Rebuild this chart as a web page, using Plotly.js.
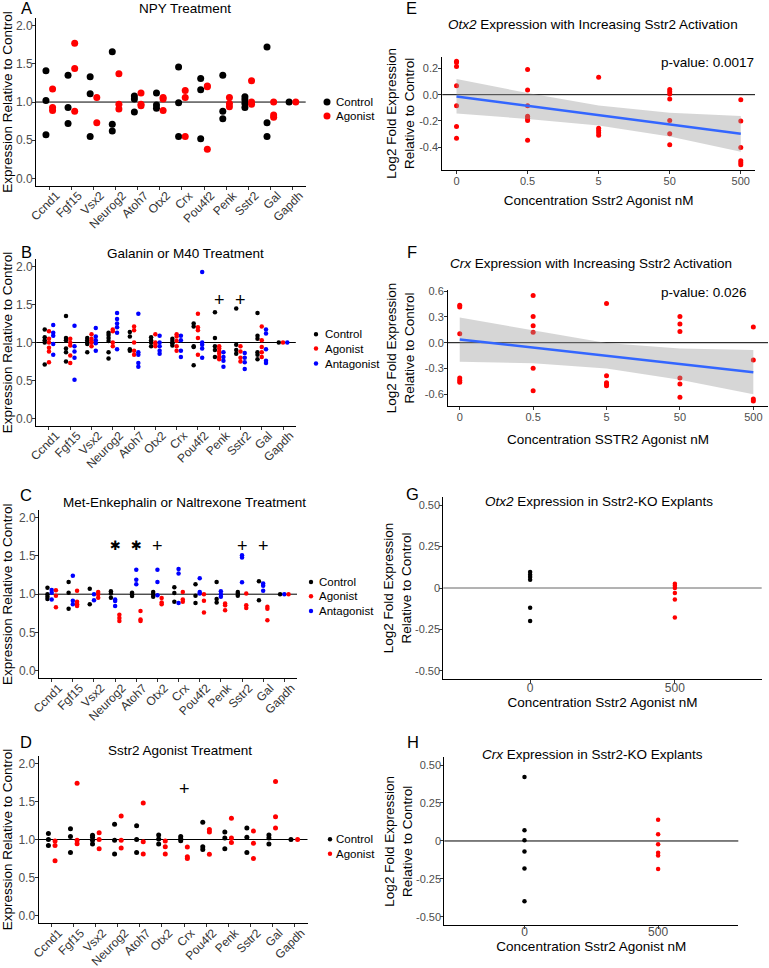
<!DOCTYPE html>
<html><head><meta charset="utf-8">
<script src="https://cdn.plot.ly/plotly-3.0.1.min.js"></script>
<style>html,body{margin:0;padding:0;background:#fff}</style>
</head><body><div id="chart" style="width:769px;height:968px"></div>
<script>
// ---------------- DATA ----------------
const genes = ['Ccnd1','Fgf15','Vsx2','Neurog2','Atoh7','Otx2','Crx','Pou4f2','Penk','Sstr2','Gal','Gapdh'];

// A: NPY treatment
const npyControl = [[1.41,1.02,0.57],[1.35,0.93,0.72],[1.33,1.11,0.55],[1.66,0.71,0.62],[1.08,1.04,0.87],[1.12,0.96,0.92],[1.46,0.99,0.55],[1.31,1.16,0.52],[1.35,0.88,0.78],[1.07,1.03,0.98,0.93],[1.72,0.73,0.55],[1.0]];
const npyAgonist = [[1.17,0.93,0.89],[1.77,1.44,0.88],[1.06,0.73],[1.37,0.97,0.91],[1.12,0.97,0.95],[1.06,1.04,0.89],[1.15,1.06,0.55],[1.21,1.20,0.38],[1.06,0.98,0.94],[1.28,1.00,0.97],[1.0,0.83,0.80],[1.0]];

// B: Galanin or M40 treatment
const galControl = [[1.17,1.07,1.03,1.0,0.71],[1.35,1.06,1.03,0.92,0.87,0.75],[1.06,1.03,1.0,0.98,0.87],[1.13,1.10,1.06,1.02,0.87,0.79],[1.14,1.08,0.91,0.89],[1.07,1.03,1.0,0.95],[1.05,1.02,0.99,0.96],[1.25,1.21,0.95,0.94,0.70],[1.40,1.06,0.95,0.90,0.81],[1.45,0.97,0.90,0.85],[1.39,1.09,1.05,0.87,0.84,0.78],[1.0]];
const galAgonist = [[1.15,1.05,1.0,0.93,0.88,0.74],[1.05,1.0,0.96,0.83,0.73],[1.11,1.05,1.02,1.0,0.95],[1.17,1.15,1.0,0.95],[1.21,1.16,1.0,0.89,0.84],[1.11,1.0,0.98,0.95],[1.11,1.08,1.02,0.95,0.89],[1.38,1.2,1.16,1.06,0.84],[0.95,0.92,0.88,0.85,0.81,0.78],[0.95,0.88,0.80,0.75],[1.21,1.03,0.94,0.87,0.81],[1.0]];
const galAntagonist = [[1.23,1.13,1.09,0.98,0.84],[1.22,0.95,0.88,0.80,0.51],[1.19,1.08,1.03,0.99,0.89],[1.39,1.31,1.25,1.2,1.13,0.91],[1.38,0.87,0.84,0.73,0.68],[1.09,1.0,0.95,0.89,0.85],[1.09,1.03,0.89,0.81],[1.93,1.0,0.97,0.92,0.80],[0.87,0.81,0.76,0.68],[0.86,0.80,0.74,0.65],[1.17,1.12,0.91,0.76,0.73],[1.0]];

// C: Met-Enkephalin or Naltrexone treatment
const metControl = [[1.085,1.0,0.967,0.937],[1.16,1.02,0.81],[1.07,0.87],[1.04,1.01,0.955],[1.02,1.0,0.976],[1.03,1.0,0.967],[1.09,1.015,0.90],[1.13,0.98,0.885],[1.16,0.937,0.89],[1.03,1.006,0.98],[1.17,0.92],[1.0]];
const metAntagonist = [[1.054,1.02,0.93],[1.24,0.915,0.87],[1.0,0.92],[0.93,0.91,0.845],[1.32,1.19,1.13],[1.32,1.16,0.985],[1.33,1.27,0.885],[1.21,1.03,1.01],[1.04,1.0,0.967],[1.51,1.48,1.155],[1.14,1.11,1.046],[1.0]];
const metAgonist = [[1.05,0.98,0.83],[1.045,0.90,0.87,0.845],[1.03,1.0,0.955],[0.73,0.69,0.65],[0.78,0.67,0.65],[0.95,0.89,0.87],[1.03,0.93,0.90],[1.0,0.915,0.76],[0.88,0.855,0.79],[1.01,0.855,0.82],[0.837,0.81,0.66],[1.0]];

// D: Sstr2 agonist treatment
const sstControl = [[1.08,1.0,0.92],[1.14,1.04,0.83],[1.055,1.03,0.99,0.94],[1.20,0.99,0.81],[1.18,1.0,0.83],[1.06,1.005,0.94],[1.04,1.01,0.985],[1.225,0.905,0.87],[1.10,1.02,0.88],[1.15,1.03,0.83],[1.06,1.02,0.94],[1.0]];
const sstAgonist = [[0.98,0.92,0.72],[1.74,0.99,0.945],[1.09,1.0,0.88],[1.31,0.99,0.89],[1.48,0.97,0.81],[0.98,0.905,0.81],[0.90,0.775,0.75],[1.13,1.10,0.805],[1.28,1.02,0.96],[1.11,0.95,0.75],[1.76,1.30,1.15],[1.0]];

// significance marks (gene, label)
const galMarks = [['Penk','+'],['Sstr2','+']];
const metMarks = [['Neurog2','✱'],['Atoh7','✱'],['Otx2','+'],['Sstr2','+'],['Gal','+']];
const sstMarks = [['Crx','+']];
const galMarkY = 1.56, metMarkY = 1.63, sstMarkY = 1.66;

// E / F: dose response (log2 fold change)
const doses = ['0','0.5','5','50','500'];
const otx2Dose = [[0.256,0.245,0.215,0.068,-0.084,-0.243,-0.332],[0.192,0.035,-0.084,-0.165,-0.182,-0.197,-0.347],[0.134,-0.256,-0.273,-0.291,-0.309],[0.04,0.023,0.005,-0.033,-0.197,-0.299,-0.382],[-0.038,-0.2,-0.403,-0.504,-0.519,-0.534]];
const otx2Fit = [-0.013,-0.085,-0.156,-0.228,-0.299];
const otx2Upper = [0.12,0.012,-0.083,-0.137,-0.163];
const otx2Lower = [-0.143,-0.185,-0.235,-0.32,-0.435];
const otx2P = 'p-value: 0.0017';

const crxDose = [[0.435,0.415,0.103,-0.41,-0.435,-0.46],[0.547,0.304,0.197,0.122,-0.296,-0.558],[0.456,-0.384,-0.465,-0.485,-0.5],[0.304,0.216,0.129,-0.41,-0.479,-0.634],[0.182,-0.201,-0.653,-0.676]];
const crxFit = [0.038,-0.057,-0.152,-0.247,-0.342];
const crxUpper = [0.292,0.14,-0.004,-0.066,-0.084];
const crxLower = [-0.22,-0.24,-0.30,-0.43,-0.60];
const crxP = 'p-value: 0.026';

// G / H: Sstr2-KO explants
const koDoses = ['0','500'];
const otx2Ko0 = [0.096,0.08,0.066,0.05,-0.12,-0.20];
const otx2Ko500 = [0.026,0.014,0.0,-0.03,-0.07,-0.179];
const crxKo0 = [0.421,0.070,0.004,-0.070,-0.182,-0.397];
const crxKo500 = [0.140,0.044,-0.022,-0.077,-0.096,-0.184];

const leftTicks = [0,0.5,1,1.5,2], leftTickText = ['0.0','0.5','1.0','1.5','2.0'];
const eTicks = [-0.4,-0.2,0,0.2], eTickText = ['-0.4','-0.2','0.0','0.2'];
const fTicks = [-0.6,-0.3,0,0.3,0.6], fTickText = ['-0.6','-0.3','0.0','0.3','0.6'];
const koTicks = [-0.5,-0.25,0,0.25,0.5], koTickText = ['-0.50','-0.25','0','0.25','0.50'];

// ---------------- DRAWING ----------------
const W = 769, H = 968;
const FONT = 'Liberation Sans, Arial, Helvetica, sans-serif';
const fx = p => p / W, fy = p => 1 - p / H;
const BLACK = '#000000', RED = '#ff0000', BLUE = '#0000ff';

const traces = [];
const layout = {
  width: W, height: H, autosize: false,
  margin: {l: 0, r: 0, t: 0, b: 0},
  paper_bgcolor: '#fff', plot_bgcolor: '#fff',
  font: {family: FONT, color: '#000', size: 12},
  showlegend: false,
  scattermode: 'group', scattergap: 0.4,
  annotations: [], shapes: []
};

function flat(groups) {
  const x = [], y = [];
  groups.forEach((vals, i) => vals.forEach(v => { x.push(genes[i]); y.push(v); }));
  return {x, y};
}
function dots(groups, color, size, n, og) {
  const d = flat(groups);
  traces.push({type: 'scatter', mode: 'markers', x: d.x, y: d.y,
    xaxis: 'x' + (n === 1 ? '' : n), yaxis: 'y' + (n === 1 ? '' : n),
    offsetgroup: og, marker: {color, size, line: {width: 0}}, hoverinfo: 'skip'});
}
const baseAxis = {showline: true, linecolor: '#000', linewidth: 1, ticks: 'outside', ticklen: 3,
  tickcolor: '#333', tickwidth: 1, showgrid: false, zeroline: false, automargin: false, fixedrange: true,
  tickfont: {family: FONT, size: 12, color: '#4d4d4d'}};

function geneAxes(n, px, py) {
  const s = n === 1 ? '' : n;
  layout['xaxis' + s] = Object.assign({}, baseAxis, {
    domain: [fx(px[0]), fx(px[1])], anchor: 'y' + s, type: 'category',
    categoryorder: 'array', categoryarray: genes, range: [-0.6, 11.6],
    tickmode: 'linear', tick0: 0, dtick: 1, tickangle: -45,
    ticklabelshift: 7, ticklabelstandoff: -6,
    tickfont: {family: FONT, size: 12, color: '#333'}});
  layout['yaxis' + s] = Object.assign({}, baseAxis, {
    domain: [fy(py[1]), fy(py[0])], anchor: 'x' + s, range: [-0.1, 2.1],
    tickmode: 'array', tickvals: leftTicks, ticktext: leftTickText, ticklabelstandoff: -3,
    title: {text: 'Expression Relative to Control', font: {family: FONT, size: 13.5, color: '#000'}, standoff: 5}});
  layout.shapes.push({type: 'line', xref: 'x' + s + ' domain', yref: 'y' + s, x0: 0, x1: 1, y0: 1, y1: 1,
    line: {color: '#000', width: 1}, layer: 'below'});
}
function numAxes(n, px, py, xcats, xr, yr, tv, tt, o) {
  layout['xaxis' + n] = Object.assign({}, baseAxis, {
    domain: [fx(px[0]), fx(px[1])], anchor: 'y' + n, type: 'category',
    categoryorder: 'array', categoryarray: xcats, range: xr,
    ticklabelstandoff: o.xLabelShift,
    tickfont: {family: FONT, size: o.xTickSize, color: '#4d4d4d'},
    title: {text: o.xTitle, font: {family: FONT, size: 13.5, color: '#000'}, standoff: o.xStandoff}});
  layout['yaxis' + n] = Object.assign({}, baseAxis, {
    domain: [fy(py[1]), fy(py[0])], anchor: 'x' + n, range: yr,
    tickmode: 'array', tickvals: tv, ticktext: tt,
    ticklabelstandoff: o.yLabelShift,
    tickfont: {family: FONT, size: 11, color: '#4d4d4d'},
    title: {text: 'Log2 Fold Expression<br>Relative to Control', font: {family: FONT, size: 13.5, color: '#000'}, standoff: o.yStandoff}});
  layout.shapes.push({type: 'line', xref: 'x' + n + ' domain', yref: 'y' + n, x0: 0, x1: 1, y0: 0, y1: 0,
    line: {color: o.lineColor, width: 1}, layer: 'below'});
}
function note(text, x, y, size, opts) {
  layout.annotations.push(Object.assign({text, x: fx(x), y: fy(y), xref: 'paper', yref: 'paper',
    showarrow: false, xanchor: 'center', yanchor: 'middle',
    font: {family: FONT, size, color: '#000'}}, opts || {}));
}
function legendKey(color, x, y, r) {
  layout.shapes.push({type: 'circle', xref: 'paper', yref: 'paper', xsizemode: 'pixel', ysizemode: 'pixel',
    xanchor: fx(x), yanchor: fy(y), x0: -r, x1: r, y0: -r, y1: r, fillcolor: color, line: {width: 0}});
}
function legend(items, dotX, textX, ys, r) {
  items.forEach((it, i) => {
    legendKey(it[1], dotX, ys[i], r);
    note(it[0], textX, ys[i], 11.5, {xanchor: 'left'});
  });
}
function marks(list, n, yv) {
  list.forEach(m => layout.annotations.push({text: m[1], x: m[0], y: yv, xref: 'x' + n, yref: 'y' + n,
    showarrow: false, xanchor: 'center', yanchor: 'middle',
    font: {family: m[1] === '+' ? FONT : 'DejaVu Sans', size: m[1] === '+' ? 18 : 13, color: '#000'}}));
}

// ---- A ----
geneAxes(1, [36, 305.7], [18.1, 186]);
dots(npyControl, BLACK, 7, 1, 'c');
dots(npyAgonist, RED, 7, 1, 'a');
note('NPY Treatment', 184.5, 8.3, 13.5);
note('A', 26, 8.3, 16.5);
legend([['Control', BLACK], ['Agonist', RED]], 327, 333.5, [102, 116], 3.5);

// ---- B ----
geneAxes(2, [36.2, 295.8], [259.1, 425.9]);
dots(galControl, BLACK, 4.5, 2, 'c');
dots(galAgonist, RED, 4.5, 2, 'a');
dots(galAntagonist, BLUE, 4.5, 2, 'n');
note('Galanin or M40 Treatment', 185, 253.3, 13.5);
note('B', 26, 252, 16.5);
legend([['Control', BLACK], ['Agonist', RED], ['Antagonist', BLUE]], 316, 322.5, [334.3, 348.5, 363.5], 2.2);
marks(galMarks, 2, galMarkY);

// ---- C ----
geneAxes(3, [39, 297], [510, 678.4]);
dots(metControl, BLACK, 4.5, 3, 'c');
dots(metAntagonist, BLUE, 4.5, 3, 'n');
dots(metAgonist, RED, 4.5, 3, 'a');
note('Met-Enkephalin or Naltrexone Treatment', 184.5, 502.3, 13.5);
note('C', 26, 494.8, 16.5);
legend([['Control', BLACK], ['Agonist', RED], ['Antagonist', BLUE]], 311, 316.5, [582, 596.3, 611], 2.2);
marks(metMarks, 3, metMarkY);

// ---- D ----
geneAxes(4, [38.5, 307.5], [755.7, 923.3]);
dots(sstControl, BLACK, 5, 4, 'c');
dots(sstAgonist, RED, 5, 4, 'a');
note('Sstr2 Agonist Treatment', 180, 750, 13.5);
note('D', 26, 741.8, 16.5);
legend([['Control', BLACK], ['Agonist', RED]], 330, 333.5, [839.3, 853.7], 2.2);
marks(sstMarks, 4, sstMarkY);

// ---- E / F ----
function doseFlat(groups) {
  const x = [], y = [];
  groups.forEach((vals, i) => vals.forEach(v => { x.push(doses[i]); y.push(v); }));
  return {x, y};
}
function regressionPanel(n, pts, fit, upper, lower) {
  const xa = 'x' + n, ya = 'y' + n;
  const d = doseFlat(pts);
  traces.push({type: 'scatter', mode: 'markers', x: d.x, y: d.y, xaxis: xa, yaxis: ya, offsetgroup: 'g',
    marker: {color: RED, size: 5, line: {width: 0}}, hoverinfo: 'skip'});
  traces.push({type: 'scatter', mode: 'lines', x: doses, y: upper, xaxis: xa, yaxis: ya, offsetgroup: 'g',
    line: {width: 0}, hoverinfo: 'skip'});
  traces.push({type: 'scatter', mode: 'lines', x: doses, y: lower, xaxis: xa, yaxis: ya, offsetgroup: 'g',
    line: {width: 0}, fill: 'tonexty', fillcolor: 'rgba(153,153,153,0.4)', hoverinfo: 'skip'});
  traces.push({type: 'scatter', mode: 'lines', x: doses, y: fit, xaxis: xa, yaxis: ya, offsetgroup: 'g',
    line: {color: '#3366FF', width: 2.5}, hoverinfo: 'skip'});
}
numAxes(5, [442.3, 755], [56.7, 170], doses, [-0.2, 4.2], [-0.575, 0.29], eTicks, eTickText,
  {lineColor: '#000', xTitle: 'Concentration Sstr2 Agonist nM', xStandoff: 9, xTickSize: 11, xLabelShift: -2,
   yLabelShift: -2, yStandoff: 1});
regressionPanel(5, otx2Dose, otx2Fit, otx2Upper, otx2Lower);
note('<i>Otx2</i> Expression with Increasing Sstr2 Activation', 593, 25, 13.5);
note('E', 411, 8.3, 16.5);
note(otx2P, 756, 62.3, 13.5, {xanchor: 'right'});

numAxes(6, [448, 768], [290, 406], doses, [-0.16, 4.2], [-0.735, 0.612], fTicks, fTickText,
  {lineColor: '#000', xTitle: 'Concentration SSTR2 Agonist nM', xStandoff: 12, xTickSize: 11, xLabelShift: -2,
   yLabelShift: -2, yStandoff: 7});
regressionPanel(6, crxDose, crxFit, crxUpper, crxLower);
note('<i>Crx</i> Expression with Increasing Sstr2 Activation', 590.7, 263.3, 13.5);
note('F', 411.7, 252, 16.5);
note(crxP, 749.3, 292.7, 13.5, {xanchor: 'right'});

// ---- G / H ----
function koPanel(n, v0, v500) {
  const xa = 'x' + n, ya = 'y' + n;
  traces.push({type: 'scatter', mode: 'markers', x: v0.map(() => koDoses[0]), y: v0, xaxis: xa, yaxis: ya,
    offsetgroup: 'k', marker: {color: BLACK, size: 4.5, line: {width: 0}}, hoverinfo: 'skip'});
  traces.push({type: 'scatter', mode: 'markers', x: v500.map(() => koDoses[1]), y: v500, xaxis: xa, yaxis: ya,
    offsetgroup: 'k', marker: {color: RED, size: 4.5, line: {width: 0}}, hoverinfo: 'skip'});
}
numAxes(7, [443.3, 761.7], [497, 679], koDoses, [-0.6, 1.6], [-0.55, 0.55], koTicks, koTickText,
  {lineColor: '#666', xTitle: 'Concentration Sstr2 Agonist nM', xStandoff: 0, xTickSize: 12, xLabelShift: -5,
   yLabelShift: -3, yStandoff: 0});
koPanel(7, otx2Ko0, otx2Ko500);
note('<i>Otx2</i> Expression in Sstr2-KO Explants', 598.7, 501.7, 13.5);
note('G', 412, 493.8, 16.5);

numAxes(8, [444.3, 738.3], [757.4, 925.3], koDoses, [-0.6, 1.6], [-0.555, 0.55], koTicks, koTickText,
  {lineColor: '#000', xTitle: 'Concentration Sstr2 Agonist nM', xStandoff: 0, xTickSize: 12, xLabelShift: -8,
   yLabelShift: -3, yStandoff: 0});
koPanel(8, crxKo0, crxKo500);
note('<i>Crx</i> Expression in Sstr2-KO Explants', 592.5, 754, 13.5);
note('H', 413, 742, 16.5);

Plotly.newPlot('chart', traces, layout, {staticPlot: true, displayModeBar: false});
</script>
</body></html>
